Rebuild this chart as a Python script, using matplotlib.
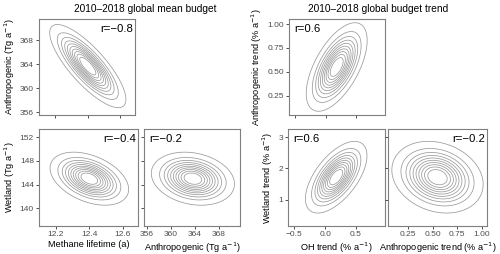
import numpy as np
import matplotlib
matplotlib.use("Agg")
import matplotlib.pyplot as plt

plt.rcParams['font.family'] = ['Liberation Sans', 'DejaVu Sans']

# variable names, means and standard deviations
var_names = ["lifetime", "anthro", "wetland", "oh_trend", "anthro_trend", "wetland_trend"]
var_means = [12.40, 363.7, 145.0, 0.18, 0.55, 1.72]
var_sds = [0.094, 2.8, 1.8, 0.20, 0.187, 0.46]

# panel pairs (x, y) and correlations
pair_x = ["lifetime", "lifetime", "anthro", "oh_trend", "oh_trend", "anthro_trend"]
pair_y = ["anthro", "wetland", "wetland", "anthro_trend", "wetland_trend", "wetland_trend"]
pair_r = [-0.8, -0.4, -0.2, 0.6, 0.6, -0.2]

# contour levels as fraction of the peak density
level_frac = np.linspace(0.045, 0.87, 10)

titles = ["2010\u20132018 global mean budget", "2010\u20132018 global budget trend"]
axis_labels = {
    "lifetime": "Methane lifetime (a)",
    "anthro": "Anthropogenic (Tg a$^{-1}$)",
    "wetland": "Wetland (Tg a$^{-1}$)",
    "oh_trend": "OH trend (% a$^{-1}$)",
    "anthro_trend": "Anthropogenic trend (% a$^{-1}$)",
    "wetland_trend": "Wetland trend (% a$^{-1}$)",
}
axis_lims = {
    "lifetime": (12.1, 12.69),
    "anthro": (355.5, 371.6),
    "wetland": (137.0, 153.4),
    "oh_trend": (-0.6, 0.97),
    "anthro_trend": (0.045, 1.055),
    "wetland_trend": (0.16, 3.26),
}
axis_ticks = {
    "lifetime": [12.2, 12.4, 12.6],
    "anthro": [356, 360, 364, 368],
    "wetland": [140, 144, 148, 152],
    "oh_trend": [-0.5, 0.0, 0.5],
    "anthro_trend": [0.25, 0.5, 0.75, 1.0],
    "wetland_trend": [1, 2, 3],
}
tick_fmt = {
    "lifetime": "{:.1f}", "anthro": "{:.0f}", "wetland": "{:.0f}",
    "oh_trend": "{:.1f}", "anthro_trend": "{:.2f}", "wetland_trend": "{:.0f}",
}

W, H = 500, 254
# pixel boxes (x0, x1, y0, y1), with y from the top
boxes = [(39, 135, 19, 115), (39, 138, 129, 226), (144, 240, 129, 226),
         (289, 385, 19, 115), (288, 385, 129, 226), (388, 487, 129, 226)]
show_xlabel = [False, True, True, False, True, True]
show_ylabel = [True, True, False, True, True, False]
r_right = [True, True, False, False, False, True]

gray = "#7f7f7f"
fig = plt.figure(figsize=(5.0, 2.54), dpi=100)

for i in range(6):
    x0, x1, y0, y1 = boxes[i]
    ax = fig.add_axes([x0 / W, 1 - y1 / H, (x1 - x0) / W, (y1 - y0) / H])
    xv, yv, r = pair_x[i], pair_y[i], pair_r[i]
    jx, jy = var_names.index(xv), var_names.index(yv)
    mx, sx = var_means[jx], var_sds[jx]
    my, sy = var_means[jy], var_sds[jy]

    gx = np.linspace(*axis_lims[xv], 300)
    gy = np.linspace(*axis_lims[yv], 300)
    X, Y = np.meshgrid(gx, gy)
    zx, zy = (X - mx) / sx, (Y - my) / sy
    Q = (zx**2 - 2 * r * zx * zy + zy**2) / (1 - r**2)
    Z = np.exp(-Q / 2)
    ax.contour(X, Y, Z, levels=level_frac, colors="#9a9a9a", linewidths=0.55)

    ax.set_xlim(axis_lims[xv])
    ax.set_ylim(axis_lims[yv])
    ax.set_xticks(axis_ticks[xv])
    ax.set_yticks(axis_ticks[yv])
    if show_xlabel[i]:
        ax.set_xticklabels([tick_fmt[xv].format(t).replace("-", "\u2212") for t in axis_ticks[xv]])
        ax.set_xlabel(axis_labels[xv], fontsize=6.6, labelpad=1.5)
    else:
        ax.set_xticklabels([])
    if show_ylabel[i]:
        ax.set_yticklabels([tick_fmt[yv].format(t) for t in axis_ticks[yv]])
        ax.set_ylabel(axis_labels[yv], fontsize=6.6, labelpad=2)
    else:
        ax.set_yticklabels([])
    ax.tick_params(length=2.2, width=0.6, color="#333333", labelsize=6.0,
                   labelcolor="#4d4d4d", pad=1.5)
    for s in ax.spines.values():
        s.set_color(gray)
        s.set_linewidth(0.8)

    txt = "r=" + ("%.1f" % r).replace("-", "\u2212")
    if r_right[i]:
        ax.text(0.985, 0.95, txt, transform=ax.transAxes, ha="right", va="top", fontsize=8.2)
    else:
        ax.text(0.05, 0.95, txt, transform=ax.transAxes, ha="left", va="top", fontsize=8.2)

fig.text(145 / W, 1 - 8.5 / H, titles[0], ha="center", va="center", fontsize=7.3)
fig.text(378 / W, 1 - 8.5 / H, titles[1], ha="center", va="center", fontsize=7.3)

fig.savefig("out.png", dpi=100)
